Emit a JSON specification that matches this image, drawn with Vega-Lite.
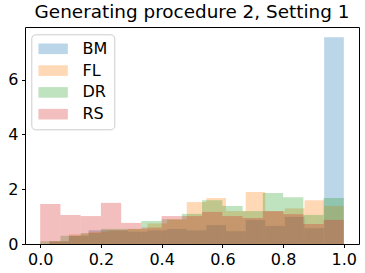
{
  "$schema": "https://vega.github.io/schema/vega-lite/v6.json",
  "width": 334,
  "height": 217,
  "autosize": {"type": "none"},
  "padding": {"left": 25, "top": 27, "right": 6, "bottom": 29},
  "title": {"text": "Generating procedure 2, Setting 1", "font": "DejaVu Sans", "fontSize": 18.4, "fontWeight": "normal", "color": "black", "offset": 6},
  "data": {"values": [
    {"s":"BM","a":0.03,"b":0.0947,"h":0.1},
    {"s":"BM","a":0.0947,"b":0.1593,"h":0.3},
    {"s":"BM","a":0.1593,"b":0.224,"h":0.5},
    {"s":"BM","a":0.224,"b":0.2887,"h":0.5},
    {"s":"BM","a":0.2887,"b":0.3533,"h":0.45},
    {"s":"BM","a":0.3533,"b":0.418,"h":0.5},
    {"s":"BM","a":0.418,"b":0.4827,"h":0.55},
    {"s":"BM","a":0.4827,"b":0.5473,"h":0.5},
    {"s":"BM","a":0.5473,"b":0.612,"h":0.69},
    {"s":"BM","a":0.612,"b":0.6767,"h":0.47},
    {"s":"BM","a":0.6767,"b":0.7413,"h":0.88},
    {"s":"BM","a":0.7413,"b":0.806,"h":0.66},
    {"s":"BM","a":0.806,"b":0.8707,"h":0.99},
    {"s":"BM","a":0.8707,"b":0.9353,"h":0.58},
    {"s":"BM","a":0.9353,"b":1.0,"h":7.55},
    {"s":"FL","a":0.03,"b":0.0947,"h":0.1},
    {"s":"FL","a":0.0947,"b":0.1593,"h":0.35},
    {"s":"FL","a":0.1593,"b":0.224,"h":0.45},
    {"s":"FL","a":0.224,"b":0.2887,"h":0.5},
    {"s":"FL","a":0.2887,"b":0.3533,"h":0.55},
    {"s":"FL","a":0.3533,"b":0.418,"h":0.75},
    {"s":"FL","a":0.418,"b":0.4827,"h":0.9},
    {"s":"FL","a":0.4827,"b":0.5473,"h":1.53},
    {"s":"FL","a":0.5473,"b":0.612,"h":1.68},
    {"s":"FL","a":0.612,"b":0.6767,"h":1.2},
    {"s":"FL","a":0.6767,"b":0.7413,"h":1.9},
    {"s":"FL","a":0.7413,"b":0.806,"h":1.2},
    {"s":"FL","a":0.806,"b":0.8707,"h":1.3},
    {"s":"FL","a":0.8707,"b":0.9353,"h":1.6},
    {"s":"FL","a":0.9353,"b":1.0,"h":1.39},
    {"s":"DR","a":0.0,"b":0.0667,"h":0.1},
    {"s":"DR","a":0.0667,"b":0.1333,"h":0.3},
    {"s":"DR","a":0.1333,"b":0.2,"h":0.4},
    {"s":"DR","a":0.2,"b":0.2667,"h":0.55},
    {"s":"DR","a":0.2667,"b":0.3333,"h":0.55},
    {"s":"DR","a":0.3333,"b":0.4,"h":0.84},
    {"s":"DR","a":0.4,"b":0.4667,"h":0.9},
    {"s":"DR","a":0.4667,"b":0.5333,"h":1.1},
    {"s":"DR","a":0.5333,"b":0.6,"h":1.6},
    {"s":"DR","a":0.6,"b":0.6667,"h":1.39},
    {"s":"DR","a":0.6667,"b":0.7333,"h":1.2},
    {"s":"DR","a":0.7333,"b":0.8,"h":1.86},
    {"s":"DR","a":0.8,"b":0.8667,"h":1.71},
    {"s":"DR","a":0.8667,"b":0.9333,"h":1.06},
    {"s":"DR","a":0.9333,"b":1.0,"h":1.68},
    {"s":"RS","a":0.0,"b":0.0667,"h":1.46},
    {"s":"RS","a":0.0667,"b":0.1333,"h":1.06},
    {"s":"RS","a":0.1333,"b":0.2,"h":1.02},
    {"s":"RS","a":0.2,"b":0.2667,"h":1.5},
    {"s":"RS","a":0.2667,"b":0.3333,"h":0.77},
    {"s":"RS","a":0.3333,"b":0.4,"h":0.6},
    {"s":"RS","a":0.4,"b":0.4667,"h":1.02},
    {"s":"RS","a":0.4667,"b":0.5333,"h":1.02},
    {"s":"RS","a":0.5333,"b":0.6,"h":1.17},
    {"s":"RS","a":0.6,"b":0.6667,"h":1.02},
    {"s":"RS","a":0.6667,"b":0.7333,"h":0.95},
    {"s":"RS","a":0.7333,"b":0.8,"h":1.2},
    {"s":"RS","a":0.8,"b":0.8667,"h":1.09},
    {"s":"RS","a":0.8667,"b":0.9333,"h":0.73},
    {"s":"RS","a":0.9333,"b":1.0,"h":0.88}
  ]},
  "mark": {"type": "rect", "fillOpacity": 0.3, "strokeWidth": 0},
  "encoding": {
    "x": {"field": "a", "type": "quantitative",
      "scale": {"domain": [-0.05, 1.05], "nice": false, "zero": false},
      "axis": {"values": [0, 0.2, 0.4, 0.6, 0.8, 1.0], "format": ".1f", "title": null}},
    "x2": {"field": "b"},
    "y": {"field": "h", "type": "quantitative",
      "scale": {"domain": [0, 7.92], "nice": false},
      "axis": {"values": [0, 2, 4, 6], "format": "d", "title": null}},
    "y2": {"datum": 0},
    "color": {"field": "s", "type": "nominal",
      "scale": {"domain": ["BM", "FL", "DR", "RS"], "range": ["#1f77b4", "#ff7f0e", "#2ca02c", "#d62728"]},
      "legend": {"title": null, "orient": "none", "legendX": 6.3, "legendY": 7.3,
        "symbolType": "M-1,-0.72H3V0.72H-1Z", "symbolSize": 216, "symbolOpacity": 0.3, "symbolStrokeWidth": 0,
        "labelFont": "DejaVu Sans", "labelFontSize": 16, "labelColor": "black", "labelOffset": 28.7,
        "rowPadding": 5.8, "padding": 6.5, "fillColor": "white", "strokeColor": "#cccccc", "cornerRadius": 4}}
  },
  "config": {
    "view": {"stroke": "black", "strokeWidth": 1},
    "axis": {"domain": false, "grid": false, "tickColor": "black", "tickSize": 3.5, "tickWidth": 1,
      "labelFont": "DejaVu Sans", "labelFontSize": 16, "labelColor": "black", "labelPadding": 3.5}
  }
}
